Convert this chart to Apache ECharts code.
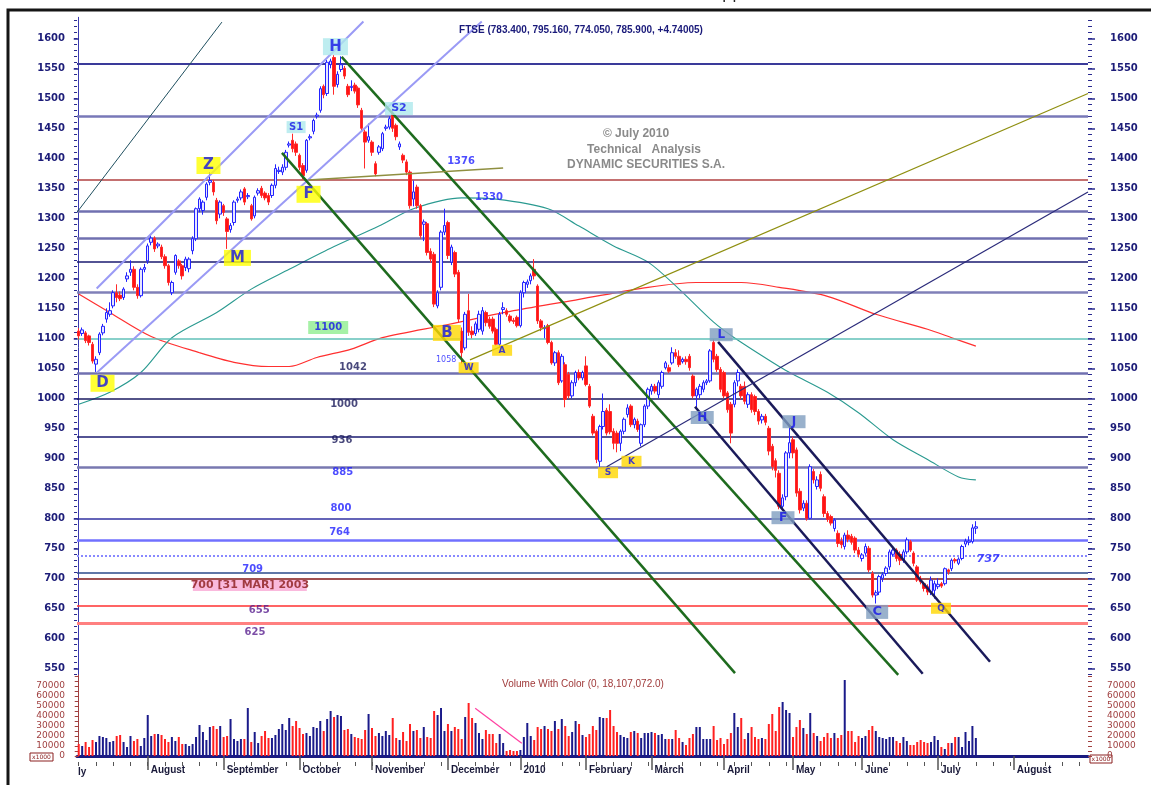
<!DOCTYPE html>
<html>
<head>
<meta charset="utf-8">
<script src="https://cdn.jsdelivr.net/npm/echarts@6/dist/echarts.min.js"></script>
<style>
  html, body { margin: 0; padding: 0; background: #fff; }
  #chart { width: 1151px; height: 785px; }
</style>
</head>
<body>
<div id="chart"></div>
<script>
// trading-day slots on the x axis (data + empty future days)
const slotCount = 293;
const monthStarts = [20, 42, 64, 85, 107, 128, 147, 166, 187, 207, 227, 249, 271];
const monthNames = ['August', 'September', 'October', 'November', 'December', '2010',
  'February', 'March', 'April', 'May', 'June', 'July', 'August'];
const priceTicks = [550, 600, 650, 700, 750, 800, 850, 900, 950, 1000, 1050, 1100,
  1150, 1200, 1250, 1300, 1350, 1400, 1450, 1500, 1550, 1600];
const volumeTicks = [0, 10000, 20000, 30000, 40000, 50000, 60000, 70000];

// daily candles [open, close, low, high]
const candles = [
  [1112,1104,1098,1117],[1108,1114,1104,1118],[1109,1096,1092,1112],[1104,1093,1088,1106],[1090,1062,1058,1094],
  [1057,1065,1044,1070],[1076,1107,1072,1110],[1109,1120,1105,1124],[1132,1143,1126,1150],[1140,1146,1136,1160],
  [1154,1176,1150,1180],[1176,1168,1160,1190],[1172,1166,1162,1178],[1168,1182,1164,1185],[1199,1204,1194,1210],
  [1210,1215,1204,1230],[1215,1185,1180,1220],[1185,1171,1166,1190],[1171,1215,1168,1218],[1215,1218,1210,1224],
  [1229,1254,1224,1258],[1260,1267,1255,1272],[1267,1249,1244,1270],[1254,1257,1250,1260],[1252,1236,1232,1256],
  [1236,1221,1216,1240],[1221,1193,1188,1224],[1176,1193,1172,1196],[1210,1238,1206,1240],[1229,1221,1216,1232],
  [1221,1204,1198,1224],[1218,1232,1212,1236],[1216,1232,1210,1235],[1246,1266,1240,1270],[1266,1316,1262,1318],
  [1316,1332,1310,1335],[1313,1327,1306,1330],[1335,1357,1330,1360],[1360,1363,1355,1377],[1360,1344,1338,1364],
  [1330,1296,1290,1334],[1307,1327,1300,1330],[1321,1310,1304,1324],[1299,1278,1249,1302],[1281,1288,1276,1292],
  [1293,1327,1288,1330],[1330,1332,1326,1336],[1334,1344,1330,1348],[1349,1327,1322,1352],[1336,1338,1332,1342],
  [1321,1299,1296,1324],[1304,1335,1300,1338],[1342,1346,1338,1350],[1350,1338,1334,1354],[1342,1334,1330,1345],
  [1338,1327,1322,1342],[1338,1355,1334,1358],[1355,1383,1350,1390],[1378,1380,1374,1386],[1377,1385,1372,1390],
  [1385,1410,1380,1414],[1422,1424,1418,1428],[1430,1416,1410,1441],[1424,1410,1404,1428],[1405,1385,1380,1408],
  [1388,1371,1365,1392],[1380,1430,1376,1432],[1434,1436,1430,1440],[1445,1463,1440,1466],[1470,1472,1466,1476],
  [1480,1516,1476,1520],[1520,1506,1500,1523],[1508,1560,1504,1564],[1556,1562,1550,1566],[1568,1520,1506,1572],
  [1523,1540,1518,1545],[1548,1556,1544,1570],[1550,1537,1532,1554],[1520,1506,1502,1524],[1518,1520,1512,1530],
  [1522,1512,1508,1526],[1517,1489,1484,1520],[1480,1450,1446,1484],[1444,1427,1383,1448],[1430,1436,1426,1458],
  [1427,1410,1404,1430],[1391,1374,1370,1395],[1410,1419,1406,1422],[1416,1441,1412,1444],[1450,1452,1446,1456],
  [1452,1466,1448,1470],[1475,1450,1444,1478],[1455,1436,1430,1458],[1419,1424,1414,1428],[1405,1397,1392,1408],
  [1394,1377,1372,1398],[1377,1321,1316,1380],[1332,1344,1320,1363],[1352,1321,1316,1356],[1321,1271,1266,1324],
  [1290,1294,1262,1298],[1291,1243,1238,1294],[1245,1232,1226,1250],[1240,1157,1152,1244],[1154,1176,1150,1180],
  [1185,1277,1180,1280],[1277,1288,1272,1316],[1293,1238,1232,1296],[1227,1252,1222,1256],[1243,1207,1202,1246],
  [1210,1132,1126,1214],[1112,1076,1058,1118],[1084,1140,1080,1144],[1146,1110,1104,1174],[1112,1106,1100,1120],
  [1108,1124,1104,1128],[1115,1140,1110,1146],[1112,1146,1106,1152],[1143,1126,1120,1146],[1132,1120,1116,1136],
  [1132,1112,1108,1136],[1115,1090,1088,1118],[1090,1140,1086,1144],[1148,1151,1140,1160],[1146,1140,1136,1150],
  [1137,1129,1126,1140],[1130,1128,1124,1134],[1135,1121,1118,1138],[1121,1176,1118,1180],[1176,1193,1168,1196],
  [1190,1194,1184,1198],[1196,1204,1190,1208],[1215,1204,1198,1232],[1187,1129,1124,1190],[1129,1118,1112,1132],
  [1116,1118,1100,1122],[1121,1093,1090,1124],[1093,1059,1056,1096],[1059,1076,1054,1079],[1076,1026,1022,1080],
  [1029,1070,1026,1074],[1056,998,985,1060],[1040,1004,1000,1044],[1004,1026,1000,1030],[1026,1043,1020,1046],
  [1043,1034,1030,1048],[1034,1043,1030,1046],[1054,1023,1020,1070],[1020,987,984,1024],[970,942,938,974],
  [945,898,892,948],[895,953,886,956],[953,978,948,1008],[980,942,938,984],[978,944,940,990],
  [945,925,915,950],[942,925,910,946],[925,945,912,948],[945,965,940,968],[973,984,968,990],
  [987,956,952,990],[956,965,950,968],[962,948,944,966],[925,956,920,958],[956,987,952,990],
  [987,1015,982,1018],[1012,1020,1006,1024],[1020,1012,1008,1024],[1006,1026,1000,1030],[1020,1043,1016,1046],
  [1051,1059,1048,1062],[1051,1045,1042,1056],[1059,1076,1056,1085],[1076,1070,1066,1082],[1070,1056,1052,1080],
  [1061,1065,1058,1068],[1065,1061,1056,1070],[1070,1051,1046,1074],[1037,1004,1000,1040],[1004,1015,985,1018],
  [1006,1020,1000,1024],[1015,1026,1010,1030],[1026,1029,1022,1032],[1029,1079,1026,1082],[1093,1065,1060,1098],
  [1070,1048,1044,1074],[1048,1015,1010,1052],[1043,1004,1000,1046],[1009,981,976,1012],[990,942,925,994],
  [990,1026,985,1030],[1029,1043,1020,1048],[1020,1004,998,1024],[1020,995,990,1028],[990,1006,984,1010],
  [1006,981,976,1010],[1003,978,972,1006],[978,962,956,982],[964,970,958,974],[970,960,955,974],
  [950,912,905,954],[920,886,880,924],[896,880,868,900],[875,820,815,880],[820,834,815,840],
  [836,909,830,912],[909,926,900,951],[931,909,900,936],[914,842,836,918],[845,814,808,850],
  [817,825,812,830],[825,800,796,830],[800,886,798,890],[878,864,858,882],[853,864,848,870],
  [873,850,845,878],[836,808,802,840],[808,798,794,812],[803,792,788,806],[783,797,778,800],
  [775,758,752,780],[762,756,750,768],[753,772,748,776],[772,765,760,780],[770,760,756,774],
  [767,747,742,770],[747,740,735,752],[733,739,728,742],[742,753,738,758],[750,714,710,754],
  [708,672,668,712],[672,676,658,680],[677,703,672,706],[700,706,694,710],[708,717,704,720],
  [719,744,714,748],[740,747,736,752],[747,733,728,750],[740,730,722,745],[730,744,726,748],
  [744,764,740,768],[761,747,744,764],[742,725,720,745],[719,697,694,722],[700,694,690,704],
  [691,683,678,694],[686,677,672,690],[677,697,672,703],[680,691,666,696],[686,690,682,700],
  [691,687,684,694],[691,716,688,718],[714,711,706,716],[716,730,712,733],[731,729,725,734],
  [725,732,722,735],[733,753,730,756],[757,762,752,766],[760,762,755,770],[761,784,758,790],
  [783.4,785.9,774.05,795.16]
];

const volumes = [
  12000,10000,14000,9000,16000,14000,20000,19000,18000,14000,15000,
  20000,21000,14000,9000,20000,15000,17000,10000,18000,41000,
  20000,22000,22000,21000,17000,14000,19000,15000,19000,12000,
  12000,10000,12000,19000,31000,24000,16000,29000,30000,27000,
  30000,19000,20000,37000,17000,15000,17000,17000,48000,14000,24000,
  13000,20000,25000,18000,18000,21000,27000,32000,26000,38000,
  30000,35000,28000,22000,23000,20000,29000,28000,35000,25000,
  37000,45000,39000,41000,40000,26000,27000,22000,19000,18000,
  17000,26000,42000,28000,20000,23000,
  20000,25000,21000,38000,18000,16000,24000,15000,32000,25000,
  26000,18000,29000,19000,18000,45000,41000,48000,25000,32000,
  25000,29000,27000,17000,39000,53000,38000,33000,23000,17000,
  26000,22000,22000,13000,22000,13000,5000,6000,5000,5000,
  6000,19000,33000,20000,16000,29000,27000,30000,27000,25000,
  35000,27000,37000,30000,20000,24000,35000,32000,21000,19000,
  22000,30000,26000,39000,38000,38000,46000,30000,24000,21000,19000,
  18000,24000,25000,23000,18000,23000,23000,24000,23000,21000,
  22000,17000,17000,17000,26000,18000,14000,11000,18000,22000,
  29000,29000,17000,17000,17000,30000,16000,18000,12000,17000,
  23000,43000,29000,38000,17000,23000,29000,19000,17000,18000,
  17000,32000,42000,25000,49000,
  54000,46000,43000,19000,29000,36000,28000,22000,43000,23000,
  20000,15000,19000,23000,18000,23000,18000,21000,76000,25000,
  25000,14000,20000,18000,20000,26000,30000,25000,19000,18000,
  17000,19000,19000,15000,13000,19000,15000,11000,11000,14000,16000,
  14000,13000,14000,20000,16000,9000,7000,13000,13000,19000,
  19000,9000,24000,15000,30000,18000
];

// moving averages: [slot, price]
const maRed = [[0,1174],[9,1143],[21,1103],[35,1076],[45,1060],[55,1053],[61,1053],[69,1068],[79,1082],
  [88,1101],[107,1123],[126,1146],[145,1165],[165,1185],[179,1193],[192,1193],[203,1185],[217,1170],
  [231,1140],[246,1115],[253,1101],[260,1087]];
const maTeal = [[0,990],[9,1010],[18,1043],[27,1101],[40,1143],[50,1182],[61,1215],[73,1250],[87,1287],
  [97,1316],[111,1334],[121,1332],[136,1316],[145,1287],[155,1254],[165,1227],[174,1182],[184,1127],
  [190,1101],[203,1053],[207,1040],[217,1010],[226,976],[236,931],[246,898],[255,869],[260,864]];

// horizontal support / resistance levels
const levels = [1557, 1470, 1365, 1311, 1267, 1228, 1176, 1100, 1042, 1000, 936, 885, 800, 764, 737, 709, 700, 655, 625];
const levelStyles = [
  { color: '#3a3a9a', width: 2 }, { color: '#7878b8', width: 2.5 }, { color: '#b04040', width: 1.5 },
  { color: '#7070b0', width: 2.5 }, { color: '#7070b0', width: 2.5 }, { color: '#1a1a70', width: 1.5 },
  { color: '#8080b8', width: 2.5 }, { color: '#60c0b8', width: 1.5 }, { color: '#7070b0', width: 2.5 },
  { color: '#1a1a60', width: 1.5 }, { color: '#1a1a70', width: 1.5 }, { color: '#7878b0', width: 2.5 },
  { color: '#3030a0', width: 1.5 }, { color: '#7070ff', width: 2.5 }, { color: '#8888ff', width: 2, type: 'dotted' },
  { color: '#2a4a8a', width: 1.5 }, { color: '#a05050', width: 2 }, { color: '#ff3030', width: 1.5 },
  { color: '#ff8080', width: 3 }
];

// trend lines [slot1, price1, slot2, price2]
const trendLines = [
  [-0.5, 1310, 41.5, 1627], [5.2, 1183, 82.5, 1628], [5.3, 1043, 116.8, 1628],
  [58.9, 1409, 190.2, 542], [76.2, 1569, 237.5, 539],
  [185.3, 1094, 264.1, 561], [178.6, 986, 244.6, 541],
  [153, 886, 292.5, 1344], [113.4, 1064, 292.5, 1508], [66.5, 1364, 123, 1384]
];
const trendStyles = [
  { color: '#1f4f5f', width: 1 }, { color: '#9a9af5', width: 2 }, { color: '#9a9af5', width: 2 },
  { color: '#1e6b1e', width: 2.5 }, { color: '#1e6b1e', width: 2.5 },
  { color: '#1a1a5a', width: 2.5 }, { color: '#1a1a5a', width: 2.5 },
  { color: '#2a2a7a', width: 1.2 }, { color: '#8f8f10', width: 1.2 }, { color: '#8f8f40', width: 1.5 }
];

// chart annotations [text, slot, price, kind]
const notes = [
  ['H', 74.4, 1586, 'cyanBig'], ['S1', 63.0, 1452, 'cyanSmall'], ['S2', 92.8, 1483, 'cyanS2'],
  ['Z', 37.6, 1388, 'yellow'], ['F', 66.6, 1340, 'yellow'], ['M', 46.0, 1234, 'yellowWide'], ['D', 6.9, 1025, 'yellow'],
  ['1100', 72.3, 1118, 'green'], ['B', 106.7, 1109, 'goldBig'], ['W', 113.0, 1051, 'goldSmall'],
  ['A', 122.7, 1080, 'goldSmall'], ['1058', 106.5, 1064, 'tiny'], ['S', 153.4, 876, 'goldSmall'],
  ['K', 160.2, 895, 'goldSmall'], ['L', 186.2, 1106, 'steel'], ['H', 180.7, 968, 'steel'],
  ['J', 207.3, 961, 'steel'], ['F', 204.1, 801, 'steel'], ['C', 231.4, 644, 'steelC'], ['Q', 249.9, 650, 'goldSmall'],
  ['737', 263.6, 732, 'italic'], ['700 [31 MAR] 2003', 49.6, 688, 'pink'],
  ['1376', 110.8, 1395, 'lvlBlue'], ['1330', 118.9, 1334, 'lvlBlue'], ['1042', 79.5, 1052, 'lvlNavy'],
  ['1000', 76.9, 989, 'lvlNavy'], ['936', 76.3, 929, 'lvlNavy'], ['885', 76.5, 876, 'lvlBlue'],
  ['800', 76.0, 816, 'lvlBlue'], ['764', 75.6, 777, 'lvlBlue'], ['709', 50.4, 714, 'lvlBlue'],
  ['655', 52.3, 646, 'lvlPurple'], ['625', 51.1, 609, 'lvlPurple']
];
const noteKinds = {
  cyanBig: { bg: '#aee8ec', w: 25, h: 17, size: 15 },
  cyanSmall: { bg: '#aee8ec', w: 19, h: 12, size: 10 },
  cyanS2: { bg: '#aee8ec', w: 28, h: 13, size: 11 },
  yellow: { bg: '#ffff00', w: 24, h: 17, size: 15 },
  yellowWide: { bg: '#ffff00', w: 27, h: 16, size: 15 },
  goldBig: { bg: '#ffd700', w: 28, h: 16, size: 15 },
  goldSmall: { bg: '#ffd700', w: 20, h: 11, size: 9 },
  steel: { bg: '#809dbf', w: 23, h: 13, size: 12 },
  steelC: { bg: '#809dbf', w: 22, h: 14, size: 13 },
  green: { bg: '#90ee90', w: 40, h: 13, size: 10 },
  pink: { bg: '#f9a8d4', w: 114, h: 11, size: 11, color: '#8b1a1a' },
  tiny: { size: 8, color: '#2020ff', weight: 'normal' },
  italic: { size: 11, color: '#2020ff', style: 'italic' },
  lvlBlue: { size: 10, color: '#2020ff' },
  lvlNavy: { size: 10, color: '#1a1a5a' },
  lvlPurple: { size: 10, color: '#5a2090' }
};

const cats = [];
for (let i = 0; i < slotCount; i++) cats.push(String(i));
const minorPrice = [];
for (let v = 540; v <= 1630; v += 10) minorPrice.push(v);
const minorVol = [];
for (let v = 0; v <= 80000; v += 5000) minorVol.push(v);

const navy = '#1c1c78';
const volRed = '#a04040';
const isUp = (k) => candles[k][1] >= candles[k][0];

const priceAxis = (pos, tickLen, minor) => ({
  type: 'value', gridIndex: 0, min: 535, max: 1635, position: pos,
  splitLine: { show: false },
  axisLine: { show: pos === 'left' && !minor, lineStyle: { color: '#3a3ab0' } },
  axisTick: { show: true, customValues: minor ? minorPrice : priceTicks, length: tickLen,
    lineStyle: { color: '#2a2a90', width: minor ? 1 : 1.5 } },
  axisLabel: minor ? { show: false } : {
    customValues: priceTicks, margin: pos === 'left' ? 12 : 22, color: navy,
    formatter: (v) => String(v),
    fontWeight: 'bold', fontSize: 10, fontFamily: 'DejaVu Sans'
  }
});
const volAxis = (pos) => ({
  type: 'value', gridIndex: 1, min: 0, max: 81000, position: pos,
  splitLine: { show: false },
  axisLine: { show: pos === 'left', lineStyle: { color: volRed } },
  axisTick: { show: true, customValues: minorVol, length: 4, lineStyle: { color: volRed } },
  axisLabel: { customValues: volumeTicks, margin: pos === 'left' ? 12 : 19, color: volRed,
    formatter: (v) => String(v), fontSize: 9, fontFamily: 'DejaVu Sans' }
});

const series = [];

series.push({
  type: 'line', xAxisIndex: 4, yAxisIndex: 0, data: [], z: 1, silent: true,
  markLine: {
    symbol: 'none', silent: true, animation: false, label: { show: false },
    data: levels.map((v, k) => ({
      yAxis: v,
      lineStyle: Object.assign({ type: 'solid' }, levelStyles[k])
    }))
  }
});

series.push({
  type: 'line', xAxisIndex: 4, yAxisIndex: 0, data: maRed, smooth: 0.3, showSymbol: false, z: 3,
  lineStyle: { color: '#ff3030', width: 1.2 }
});
series.push({
  type: 'line', xAxisIndex: 4, yAxisIndex: 0, data: maTeal, smooth: 0.3, showSymbol: false, z: 3,
  lineStyle: { color: '#2a9a90', width: 1.1 }
});

series.push({
  type: 'candlestick', xAxisIndex: 0, yAxisIndex: 0, data: candles, barWidth: 3, z: 5,
  itemStyle: { color: '#e6e6ff', color0: '#ff1414', borderColor: '#2323ff', borderColor0: '#ff2a2a', borderWidth: 1 }
});

trendLines.forEach((t, k) => {
  series.push({
    type: 'line', xAxisIndex: 4, yAxisIndex: 0, data: [[t[0], t[1]], [t[2], t[3]]],
    showSymbol: false, z: 6, lineStyle: trendStyles[k]
  });
});

series.push({
  type: 'scatter', xAxisIndex: 4, yAxisIndex: 0, z: 10, silent: true,
  data: notes.map((n) => {
    const s = noteKinds[n[3]];
    return {
      value: [n[1], n[2]],
      symbol: 'rect',
      symbolSize: s.bg ? [s.w, s.h] : [1, 1],
      itemStyle: { color: s.bg || 'rgba(0,0,0,0)' },
      label: {
        show: true, position: 'inside', formatter: n[0],
        color: s.color || '#1414e6', fontSize: s.size, fontWeight: s.weight || 'bold',
        fontStyle: s.style || 'normal', fontFamily: 'DejaVu Sans'
      }
    };
  })
});

series.push({
  type: 'bar', xAxisIndex: 1, yAxisIndex: 4, data: volumes, barWidth: 2, z: 2,
  itemStyle: { color: (p) => (isUp(p.dataIndex) ? '#1a1a8a' : '#ff2020') }
});
series.push({
  type: 'line', xAxisIndex: 5, yAxisIndex: 4, data: [[114.9, 47700], [128.4, 12700]],
  showSymbol: false, z: 3, lineStyle: { color: '#ff40a0', width: 1.2 }
});

const option = {
  animation: false,
  backgroundColor: '#ffffff',
  grid: [
    { left: 77, right: 63, top: 17.3, height: 660, outerBoundsMode: 'none' },
    { left: 77, right: 63, top: 675, height: 81, outerBoundsMode: 'none' }
  ],
  xAxis: [
    { type: 'category', gridIndex: 0, data: cats, show: false },
    { type: 'category', gridIndex: 1, data: cats,
      axisLine: { show: true, lineStyle: { color: '#1a1a80', width: 3 } },
      axisTick: { show: false }, axisLabel: { show: false } },
    { type: 'category', gridIndex: 1, data: cats, position: 'bottom', offset: 6,
      axisLine: { show: false },
      axisTick: { show: true, alignWithLabel: true, interval: (i) => monthStarts.includes(i), length: 14,
        lineStyle: { color: '#555', width: 1.5 } },
      axisLabel: { show: true, interval: (i) => monthStarts.includes(i),
        formatter: (v, i) => monthNames[monthStarts.indexOf(i)] || '',
        align: 'left', margin: 3, padding: [0, 0, 0, 3], color: '#1a1a3a', fontWeight: 'bold',
        fontSize: 10, fontFamily: 'Liberation Sans' } },
    { type: 'category', gridIndex: 1, data: cats, position: 'bottom', offset: 6,
      axisLine: { show: false },
      axisTick: { show: true, alignWithLabel: true, interval: (i) => i % 5 === 0, length: 4,
        lineStyle: { color: '#555' } },
      axisLabel: { show: false } },
    { type: 'value', gridIndex: 0, min: -0.5, max: slotCount - 0.5, show: false },
    { type: 'value', gridIndex: 1, min: -0.5, max: slotCount - 0.5, show: false }
  ],
  yAxis: [
    priceAxis('left', 5, false), priceAxis('left', 3, true),
    priceAxis('right', 7, false), priceAxis('right', 4, true),
    volAxis('left'), volAxis('right')
  ],
  graphic: [
    { type: 'rect', silent: true, z: 100, shape: { x: 8, y: 10, width: 1160, height: 800 },
      style: { fill: 'none', stroke: '#151515', lineWidth: 3 } },
    { type: 'text', silent: true, style: { text: 'pp', x: 722, y: -13, fill: '#222',
      font: '16px "DejaVu Sans"' } },
    { type: 'text', silent: true, z: 20, style: { text: 'FTSE (783.400, 795.160, 774.050, 785.900, +4.74005)',
      x: 581, y: 30, textAlign: 'center', textVerticalAlign: 'middle', fill: '#1a1a7a',
      font: 'bold 10px "Liberation Sans"' } },
    { type: 'text', silent: true, style: { text: '\u00a9 July 2010', x: 636, y: 134, textAlign: 'center',
      textVerticalAlign: 'middle', fill: '#8a8a8a', font: 'bold 12px "Liberation Sans"' } },
    { type: 'text', silent: true, style: { text: 'Technical   Analysis', x: 644, y: 150, textAlign: 'center',
      textVerticalAlign: 'middle', fill: '#8a8a8a', font: 'bold 12px "Liberation Sans"' } },
    { type: 'text', silent: true, style: { text: 'DYNAMIC SECURITIES S.A.', x: 646, y: 165, textAlign: 'center',
      textVerticalAlign: 'middle', fill: '#8a8a8a', font: 'bold 12px "Liberation Sans"' } },
    { type: 'text', silent: true, style: { text: 'Volume With Color (0, 18,107,072.0)', x: 583, y: 684,
      textAlign: 'center', textVerticalAlign: 'middle', fill: '#a03a3a', font: '10px "Liberation Sans"' } },
    { type: 'text', silent: true, style: { text: 'ly', x: 78, y: 772, textVerticalAlign: 'middle',
      fill: '#1a1a3a', font: 'bold 10px "Liberation Sans"' } },
    { type: 'rect', silent: true, shape: { x: 30, y: 753, width: 23, height: 8 },
      style: { fill: '#fff', stroke: '#8b2020', lineWidth: 1 } },
    { type: 'text', silent: true, style: { text: 'x1000', x: 41.5, y: 757.5, textAlign: 'center',
      textVerticalAlign: 'middle', fill: '#8b2020', font: '6px "DejaVu Sans"' } },
    { type: 'rect', silent: true, shape: { x: 1090, y: 755, width: 22, height: 8 },
      style: { fill: '#fff', stroke: '#8b2020', lineWidth: 1 } },
    { type: 'text', silent: true, style: { text: 'x1000', x: 1101, y: 759.5, textAlign: 'center',
      textVerticalAlign: 'middle', fill: '#8b2020', font: '6px "DejaVu Sans"' } }
  ],
  series: series
};

const chart = echarts.init(document.getElementById('chart'), null, { renderer: 'canvas' });
chart.setOption(option);
</script>
</body>
</html>
